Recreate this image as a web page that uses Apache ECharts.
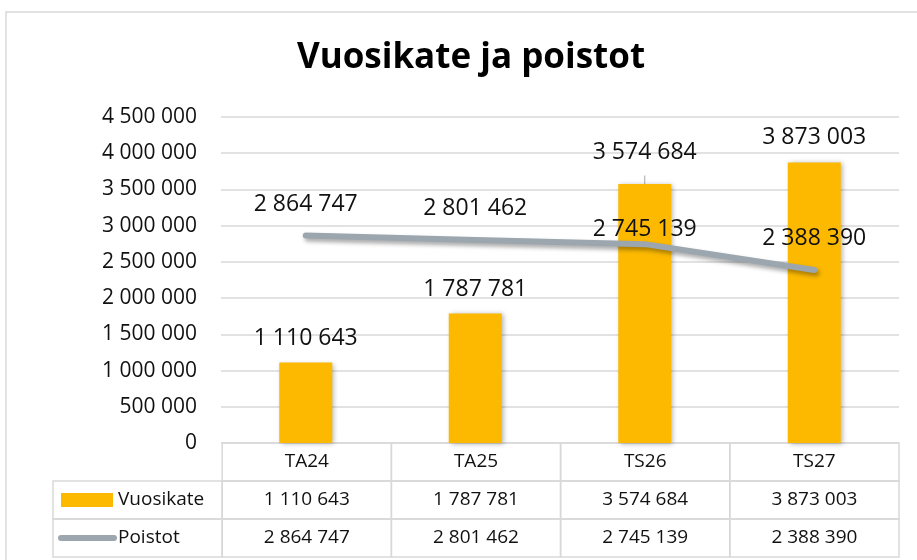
<!DOCTYPE html>
<html lang="fi">

<head>
  <meta charset="UTF-8">
  <title>Vuosikate ja poistot</title>
  <style>
    body {
      margin: 0;
      background: #fff;
    }

    #main {
      width: 917px;
      height: 560px;
    }
  </style>
</head>

<body>
<div id="main"></div>
<script src="https://cdn.jsdelivr.net/npm/echarts@6/dist/echarts.min.js"></script>
<script>
  // data
  const categories = ['TA24', 'TA25', 'TS26', 'TS27'];
  const vuosikate = [1110643, 1787781, 3574684, 3873003];
  const poistot = [2864747, 2801462, 2745139, 2388390];
  const seriesNames = ['Vuosikate', 'Poistot'];
  const yMax = 4500000;
  const yStep = 500000;

  const FONT = 'Open Sans';
  const BAR_COLOR = '#fcb900';
  const LINE_COLOR = '#9ba6ae';
  const GRID_COLOR = '#d9d9d9';

  // 1234567 -> "1 234 567"
  function fmt(v) {
    return String(v).replace(/\B(?=(\d{3})+(?!\d))/g, ' ');
  }

  // table cells: [col, row]; col 0 = legend column, row 0 = header
  let cells = [];
  categories.forEach((c, i) => cells.push({ value: [i + 1, 0], text: c }));
  [vuosikate, poistot].forEach((arr, r) => {
    cells.push({ value: [0, r + 1], text: seriesNames[r], legend: r });
    arr.forEach((v, i) => cells.push({ value: [i + 1, r + 1], text: fmt(v) }));
  });

  function renderCell(params, api) {
    const cell = cells[params.dataIndex];
    const c = api.coord([api.value(0), api.value(1)]);
    const s = api.size([1, 1]);
    const x = c[0] - s[0] / 2, y = c[1] - s[1] / 2;
    const children = [{
      type: 'rect',
      shape: { x: x, y: y, width: s[0], height: s[1] },
      style: { fill: 'none', stroke: GRID_COLOR, lineWidth: 1.5 }
    }];
    if (cell.legend === undefined) {
      children.push({
        type: 'text',
        style: {
          x: c[0], y: c[1], text: cell.text, align: 'center', verticalAlign: 'middle',
          font: '19px "' + FONT + '"', fill: '#111'
        }
      });
    } else {
      if (cell.legend === 0) {
        children.push({
          type: 'rect',
          shape: { x: x + 8, y: c[1] - 7, width: 52, height: 14 },
          style: { fill: BAR_COLOR }
        });
      } else {
        children.push({
          type: 'line',
          shape: { x1: x + 8, y1: c[1], x2: x + 61, y2: c[1] },
          style: { stroke: LINE_COLOR, lineWidth: 6, lineCap: 'round' }
        });
      }
      children.push({
        type: 'text',
        style: {
          x: x + 65, y: c[1], text: cell.text, align: 'left', verticalAlign: 'middle',
          font: '19px "' + FONT + '"', fill: '#111'
        }
      });
    }
    return { type: 'group', children: children };
  }

  const chart = echarts.init(document.getElementById('main'));

  const option = {
    animation: false,
    textStyle: { fontFamily: FONT },
    title: {
      text: 'Vuosikate ja poistot',
      left: 466,
      textAlign: 'center',
      top: 36,
      textStyle: { fontSize: 35, fontWeight: 'bold', color: '#000', fontFamily: FONT }
    },
    graphic: [{
      type: 'rect',
      shape: { x: 6, y: 12, width: 930, height: 570 },
      style: { fill: 'none', stroke: GRID_COLOR, lineWidth: 1.5 },
      silent: true
    }],
    grid: [
      { left: 221, right: 18, top: 117, bottom: 117 },
      { left: 53, right: 18, top: 443, bottom: 3 }
    ],
    xAxis: [{
      type: 'category',
      gridIndex: 0,
      data: categories,
      axisLine: { show: false },
      axisTick: { show: false },
      axisLabel: { show: false }
    }, {
      type: 'category',
      gridIndex: 1,
      data: [''].concat(categories),
      show: false
    }],
    yAxis: [{
      type: 'value',
      gridIndex: 0,
      min: 0,
      max: yMax,
      interval: yStep,
      axisLine: { show: false },
      axisTick: { show: false },
      axisLabel: {
        margin: 24,
        fontSize: 21,
        color: '#111',
        formatter: v => fmt(v)
      },
      splitLine: { lineStyle: { color: GRID_COLOR, width: 1.5 } }
    }, {
      type: 'category',
      gridIndex: 1,
      data: ['', seriesNames[0], seriesNames[1]],
      inverse: true,
      show: false
    }],
    series: [{
      name: seriesNames[0],
      type: 'bar',
      data: vuosikate.map((v, i) => i === 2 ? {
        value: v,
        label: { distance: 20 },
        labelLine: { show: true, lineStyle: { color: '#a6a6a6', width: 1 } }
      } : v),
      barWidth: 53,
      itemStyle: {
        color: BAR_COLOR,
        shadowColor: 'rgba(0,0,0,0.3)',
        shadowBlur: 5,
        shadowOffsetX: 2,
        shadowOffsetY: 1
      },
      label: {
        show: true,
        position: 'top',
        distance: 13,
        fontSize: 23,
        color: '#111',
        formatter: p => fmt(p.value)
      },
      z: 2
    }, {
      name: seriesNames[1],
      type: 'line',
      data: poistot.map((v, i) => i === 2 ? { value: v, label: { distance: 2 } } : v),
      symbol: 'circle',
      symbolSize: 2,
      showSymbol: true,
      showAllSymbol: true,
      itemStyle: { color: 'rgba(0,0,0,0)' },
      lineStyle: {
        color: LINE_COLOR,
        width: 6,
        cap: 'round',
        join: 'round',
        shadowColor: 'rgba(0,0,0,0.35)',
        shadowBlur: 4,
        shadowOffsetX: 2,
        shadowOffsetY: 3
      },
      label: {
        show: true,
        position: 'top',
        distance: 19,
        fontSize: 23,
        color: '#111',
        formatter: p => fmt(p.value)
      },
      z: 3
    }, {
      type: 'custom',
      xAxisIndex: 1,
      yAxisIndex: 1,
      data: cells.map(c => c.value),
      renderItem: renderCell,
      silent: true
    }]
  };

  chart.setOption(option);
</script>
</body>

</html>
